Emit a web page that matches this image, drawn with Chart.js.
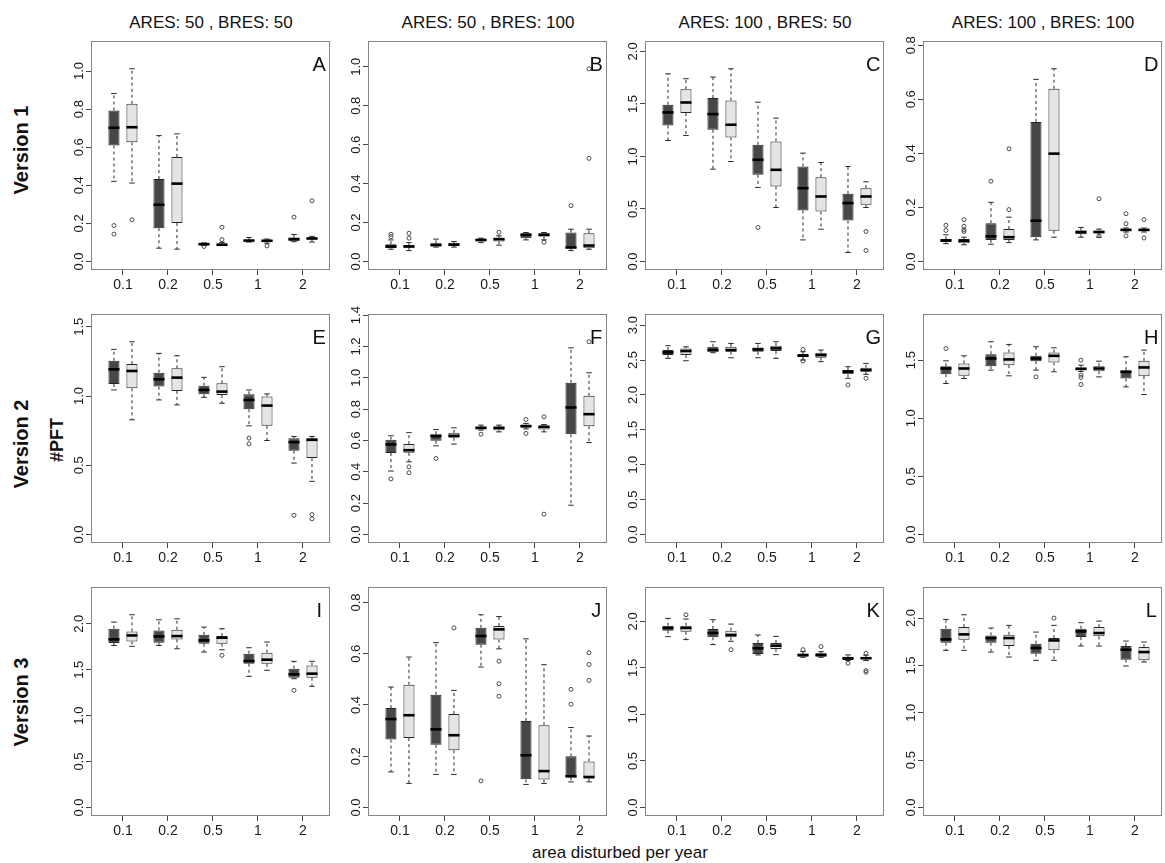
<!DOCTYPE html>
<html lang="en">
<head>
  <meta charset="UTF-8" />
  <title>#PFT vs area disturbed per year</title>
  <script src="https://cdn.jsdelivr.net/npm/chart.js"></script>
  <style>
    body { margin: 0; background: #fff; font-family: 'Liberation Sans', Arial, sans-serif; color: #111; }
    #page { position: relative; width: 1165px; height: 863px; overflow: hidden; }
    #page canvas { position: absolute; }
    .lbl { position: absolute; white-space: nowrap; line-height: 1; }
    .ctr { transform: translate(-50%, -50%); }
    .rot { transform: translate(-50%, -50%) rotate(-90deg); font-weight: bold; }
  </style>
</head>
<body>
<div id="page"></div>

<script>
  // ---- labels ----
  const categories = ['0.1', '0.2', '0.5', '1', '2'];
  const columnTitles = ['ARES: 50 , BRES: 50', 'ARES: 50 , BRES: 100', 'ARES: 100 , BRES: 50', 'ARES: 100 , BRES: 100'];
  const rowTitles = ['Version 1', 'Version 2', 'Version 3'];
  const yTitle = '#PFT';
  const xTitle = 'area disturbed per year';
  const panelLetters = ['A', 'B', 'C', 'D', 'E', 'F', 'G', 'H', 'I', 'J', 'K', 'L'];
  const yStep = [0.2, 0.2, 0.5, 0.2, 0.5, 0.2, 0.5, 0.5, 0.5, 0.2, 0.5, 0.5];

  // each box: [lower whisker, q1, median, q3, upper whisker]
  const A_dark = [[0.421, 0.609, 0.702, 0.793, 0.882], [0.070, 0.175, 0.298, 0.433, 0.661], [0.084, 0.086, 0.091, 0.095, 0.098], [0.102, 0.105, 0.110, 0.114, 0.126], [0.104, 0.107, 0.118, 0.125, 0.142]];
  const A_light = [[0.412, 0.626, 0.705, 0.828, 1.012], [0.065, 0.202, 0.409, 0.549, 0.670], [0.084, 0.084, 0.088, 0.095, 0.100], [0.096, 0.102, 0.109, 0.114, 0.118], [0.102, 0.116, 0.121, 0.125, 0.132]];
  const A_darkOut = [[0.189, 0.144], [], [0.079], [], [0.233]];
  const A_lightOut = [[0.219], [], [0.180, 0.115], [0.082], [0.319]];

  const B_dark = [[0.063, 0.068, 0.077, 0.089, 0.111], [0.074, 0.077, 0.085, 0.094, 0.115], [0.097, 0.103, 0.111, 0.116, 0.120], [0.111, 0.120, 0.137, 0.145, 0.149], [0.056, 0.068, 0.072, 0.149, 0.166]];
  const B_light = [[0.056, 0.072, 0.077, 0.085, 0.097], [0.074, 0.080, 0.087, 0.094, 0.103], [0.084, 0.103, 0.115, 0.121, 0.132], [0.111, 0.128, 0.137, 0.145, 0.149], [0.063, 0.068, 0.082, 0.145, 0.166]];
  const B_darkOut = [[0.140, 0.128], [], [], [], [0.287]];
  const B_lightOut = [[0.145, 0.120], [], [0.150], [0.099], [0.990, 0.530]];

  const C_dark = [[1.152, 1.295, 1.419, 1.492, 1.787], [0.879, 1.254, 1.403, 1.556, 1.756], [0.705, 0.825, 0.968, 1.111, 1.517], [0.206, 0.486, 0.698, 0.905, 1.032], [0.086, 0.390, 0.556, 0.644, 0.905]];
  const C_light = [[1.200, 1.413, 1.514, 1.641, 1.740], [0.952, 1.181, 1.302, 1.533, 1.835], [0.514, 0.714, 0.873, 1.143, 1.365], [0.308, 0.476, 0.619, 0.803, 0.943], [0.514, 0.540, 0.619, 0.698, 0.759]];
  const C_darkOut = [[], [], [0.324], [], []];
  const C_lightOut = [[], [], [], [], [0.286, 0.105]];

  const D_dark = [[0.066, 0.072, 0.078, 0.083, 0.099], [0.064, 0.080, 0.093, 0.142, 0.219], [0.080, 0.090, 0.151, 0.516, 0.674], [0.090, 0.101, 0.109, 0.115, 0.126], [0.109, 0.114, 0.117, 0.121, 0.124]];
  const D_light = [[0.062, 0.068, 0.077, 0.083, 0.090], [0.070, 0.080, 0.090, 0.120, 0.164], [0.090, 0.114, 0.399, 0.639, 0.713], [0.090, 0.105, 0.109, 0.115, 0.120], [0.109, 0.114, 0.117, 0.121, 0.124]];
  const D_darkOut = [[0.134, 0.115], [0.297], [], [], [0.177, 0.140, 0.095]];
  const D_lightOut = [[0.155, 0.130, 0.117, 0.111], [0.192, 0.417], [], [0.232, 0.095], [0.155, 0.087]];

  const E_dark = [[1.044, 1.087, 1.193, 1.255, 1.337], [0.972, 1.068, 1.121, 1.169, 1.308], [0.991, 1.013, 1.044, 1.075, 1.135], [0.785, 0.905, 0.972, 1.013, 1.044], [0.516, 0.605, 0.667, 0.696, 0.708]];
  const E_light = [[0.828, 1.056, 1.181, 1.231, 1.392], [0.936, 1.037, 1.133, 1.200, 1.291], [0.948, 1.008, 1.032, 1.092, 1.212], [0.679, 0.785, 0.931, 0.996, 1.015], [0.384, 0.552, 0.684, 0.696, 0.708]];
  const E_darkOut = [[], [], [], [0.696, 0.655], [0.139]];
  const E_lightOut = [[], [], [], [], [0.144, 0.113]];

  const F_dark = [[0.405, 0.520, 0.575, 0.605, 0.630], [0.566, 0.598, 0.628, 0.640, 0.670], [0.666, 0.670, 0.681, 0.687, 0.698], [0.674, 0.683, 0.691, 0.702, 0.709], [0.187, 0.640, 0.811, 0.968, 1.191]];
  const F_light = [[0.464, 0.521, 0.538, 0.577, 0.650], [0.577, 0.617, 0.630, 0.649, 0.681], [0.655, 0.666, 0.681, 0.687, 0.698], [0.655, 0.670, 0.687, 0.696, 0.702], [0.587, 0.691, 0.768, 0.885, 1.032]];
  const F_darkOut = [[0.355], [0.485], [0.640], [0.734, 0.645], []];
  const F_lightOut = [[0.432, 0.394], [], [], [0.751, 0.130], [1.230]];

  const G_dark = [[2.524, 2.571, 2.610, 2.643, 2.705], [2.605, 2.619, 2.643, 2.690, 2.762], [2.533, 2.619, 2.652, 2.681, 2.738], [2.500, 2.548, 2.562, 2.586, 2.619], [2.238, 2.295, 2.333, 2.357, 2.405]];
  const G_light = [[2.490, 2.571, 2.629, 2.667, 2.690], [2.533, 2.619, 2.643, 2.690, 2.738], [2.524, 2.629, 2.667, 2.705, 2.762], [2.476, 2.533, 2.571, 2.605, 2.643], [2.295, 2.333, 2.357, 2.390, 2.452]];
  const G_darkOut = [[], [], [], [2.652, 2.486], [2.143]];
  const G_lightOut = [[], [], [], [], [2.238]];

  const H_dark = [[1.299, 1.379, 1.428, 1.448, 1.494], [1.414, 1.448, 1.514, 1.551, 1.658], [1.414, 1.491, 1.514, 1.537, 1.615], [1.402, 1.414, 1.425, 1.437, 1.457], [1.270, 1.342, 1.399, 1.414, 1.529]];
  const H_light = [[1.342, 1.365, 1.428, 1.471, 1.537], [1.365, 1.457, 1.506, 1.566, 1.635], [1.400, 1.480, 1.537, 1.566, 1.606], [1.356, 1.405, 1.428, 1.448, 1.491], [1.204, 1.362, 1.437, 1.494, 1.586]];
  const H_darkOut = [[1.600], [], [1.356], [1.500, 1.371, 1.351, 1.290], []];
  const H_lightOut = [[], [], [], [], []];

  const I_dark = [[1.764, 1.790, 1.830, 1.946, 2.018], [1.764, 1.793, 1.862, 1.928, 2.043], [1.692, 1.783, 1.819, 1.880, 1.964], [1.428, 1.565, 1.594, 1.674, 1.739], [1.402, 1.413, 1.449, 1.511, 1.591]];
  const I_light = [[1.754, 1.808, 1.873, 1.917, 2.098], [1.728, 1.830, 1.866, 1.935, 2.054], [1.717, 1.783, 1.848, 1.866, 1.946], [1.493, 1.565, 1.609, 1.685, 1.801], [1.319, 1.413, 1.457, 1.547, 1.591]];
  const I_darkOut = [[], [], [], [], [1.275]];
  const I_lightOut = [[], [], [1.656], [], []];

  const J_dark = [[0.139, 0.265, 0.345, 0.388, 0.470], [0.129, 0.245, 0.305, 0.440, 0.643], [0.548, 0.635, 0.669, 0.701, 0.752], [0.090, 0.110, 0.204, 0.338, 0.658], [0.100, 0.117, 0.122, 0.200, 0.312]];
  const J_light = [[0.094, 0.271, 0.360, 0.479, 0.587], [0.129, 0.223, 0.282, 0.365, 0.457], [0.619, 0.655, 0.695, 0.708, 0.745], [0.094, 0.109, 0.142, 0.321, 0.557], [0.100, 0.113, 0.119, 0.180, 0.279]];
  const J_darkOut = [[], [], [0.104], [], [0.461, 0.403]];
  const J_lightOut = [[], [0.701], [0.571, 0.483, 0.434], [], [0.604, 0.558, 0.496]];

  const K_dark = [[1.836, 1.900, 1.929, 1.954, 2.032], [1.750, 1.829, 1.875, 1.918, 2.018], [1.639, 1.650, 1.711, 1.768, 1.854], [1.614, 1.621, 1.639, 1.650, 1.675], [1.579, 1.586, 1.604, 1.614, 1.639]];
  const K_light = [[1.804, 1.889, 1.929, 1.954, 2.025], [1.786, 1.829, 1.854, 1.900, 1.971], [1.643, 1.704, 1.739, 1.768, 1.839], [1.614, 1.621, 1.639, 1.657, 1.675], [1.579, 1.596, 1.604, 1.614, 1.636]];
  const K_darkOut = [[], [], [], [1.696], [1.550]];
  const K_lightOut = [[2.071], [1.696], [], [1.729], [1.657, 1.471, 1.454]];

  const L_dark = [[1.659, 1.740, 1.775, 1.888, 1.986], [1.641, 1.740, 1.789, 1.817, 1.895], [1.554, 1.624, 1.684, 1.729, 1.852], [1.705, 1.800, 1.859, 1.888, 1.951], [1.494, 1.561, 1.666, 1.705, 1.757]];
  const L_light = [[1.659, 1.772, 1.828, 1.905, 2.035], [1.589, 1.705, 1.789, 1.824, 1.923], [1.554, 1.659, 1.764, 1.789, 1.923], [1.705, 1.807, 1.842, 1.905, 1.968], [1.536, 1.554, 1.641, 1.694, 1.747]];
  const L_darkOut = [[], [], [], [], []];
  const L_lightOut = [[], [], [2.000], [], []];

  const panels = [
    [A_dark, A_light, A_darkOut, A_lightOut], [B_dark, B_light, B_darkOut, B_lightOut],
    [C_dark, C_light, C_darkOut, C_lightOut], [D_dark, D_light, D_darkOut, D_lightOut],
    [E_dark, E_light, E_darkOut, E_lightOut], [F_dark, F_light, F_darkOut, F_lightOut],
    [G_dark, G_light, G_darkOut, G_lightOut], [H_dark, H_light, H_darkOut, H_lightOut],
    [I_dark, I_light, I_darkOut, I_lightOut], [J_dark, J_light, J_darkOut, J_lightOut],
    [K_dark, K_light, K_darkOut, K_lightOut], [L_dark, L_light, L_darkOut, L_lightOut]
  ];

  // ---- layout ----
  const FRAME_LEFT = [91, 368, 645, 923];
  const FRAME_TOP = [41, 314, 587];
  const FW = 240, FH = 229;
  const PAD_L = 40, PAD_T = 14, PAD_R = 4, PAD_B = 32;
  const OFF = 0.2;            // box offset from the group tick
  const FONT = "'Liberation Sans', Arial, sans-serif";
  const DARK = '#474747', LIGHT = '#e4e4e4';

  const page = document.getElementById('page');

  function addLabel(text, x, y, cls, size) {
    const d = document.createElement('div');
    d.className = 'lbl ' + cls;
    d.style.left = x + 'px';
    d.style.top = y + 'px';
    d.style.fontSize = size + 'px';
    d.textContent = text;
    page.appendChild(d);
  }

  columnTitles.forEach((t, c) => addLabel(t, FRAME_LEFT[c] + FW / 2, 22, 'ctr', 17));
  const rowLabelY = [150, 444, 702];
  rowTitles.forEach((t, r) => addLabel(t, 21, rowLabelY[r], 'rot', 20));
  addLabel(yTitle, 57, 440, 'rot', 18);
  addLabel(xTitle, 620, 852, 'ctr', 17);

  // whiskers, caps and medians, drawn with the chart's scales
  const boxPlugin = {
    id: 'boxWhiskers',
    afterDatasetsDraw(chart) {
      const { ctx, scales: { x, y } } = chart;
      ctx.save();
      [0, 1].forEach(di => {
        const meta = chart.getDatasetMeta(di);
        const stats = chart.data.datasets[di].stats;
        stats.forEach((b, i) => {
          const bar = meta.data[i];
          const cx = bar.x, half = bar.width / 2;
          const [lo, q1, med, q3, hi] = b.map(v => y.getPixelForValue(v));
          ctx.strokeStyle = '#2a2a2a';
          ctx.lineWidth = 1;
          ctx.setLineDash([3, 3]);
          ctx.beginPath();
          ctx.moveTo(cx, q3); ctx.lineTo(cx, hi);
          ctx.moveTo(cx, q1); ctx.lineTo(cx, lo);
          ctx.stroke();
          ctx.setLineDash([]);
          ctx.beginPath();
          ctx.moveTo(cx - half / 2, hi); ctx.lineTo(cx + half / 2, hi);
          ctx.moveTo(cx - half / 2, lo); ctx.lineTo(cx + half / 2, lo);
          ctx.stroke();
          ctx.strokeStyle = '#000';
          ctx.lineWidth = 2.6;
          ctx.beginPath();
          ctx.moveTo(cx - half, med); ctx.lineTo(cx + half, med);
          ctx.stroke();
        });
      });
      ctx.restore();
    },
    afterDraw(chart, args, opts) {
      const { ctx, chartArea: a, scales: { x } } = chart;
      ctx.save();
      ctx.strokeStyle = '#858585';
      ctx.lineWidth = 1;
      ctx.strokeRect(a.left + 0.5, a.top + 0.5, a.right - a.left - 1, a.bottom - a.top - 1);
      ctx.fillStyle = '#111';
      ctx.font = '20px ' + FONT;
      ctx.textAlign = 'center';
      ctx.textBaseline = 'middle';
      ctx.fillText(opts.letter, x.getPixelForValue(5.36), a.top + 24);
      ctx.restore();
    }
  };

  function makePanel(i) {
    const col = i % 4, row = Math.floor(i / 4);
    const [dark, light, darkOut, lightOut] = panels[i];
    const canvas = document.createElement('canvas');
    canvas.width = FW + PAD_L + PAD_R;
    canvas.height = FH + PAD_T + PAD_B;
    canvas.style.left = (FRAME_LEFT[col] - PAD_L) + 'px';
    canvas.style.top = (FRAME_TOP[row] - PAD_T) + 'px';
    page.appendChild(canvas);

    // R style: ylim = c(0, 1.1 * max), extended by 4 %
    const all = [dark, light, darkOut, lightOut].flat(2);
    const top = 1.1 * Math.max(...all);
    const yTicks = [];
    for (let v = 0; v <= top * 1.04 + 1e-9; v += yStep[i]) yTicks.push(+v.toFixed(3));

    const outPts = [];
    darkOut.forEach((list, k) => list.forEach(v => outPts.push({ x: k + 1 - OFF, y: v })));
    lightOut.forEach((list, k) => list.forEach(v => outPts.push({ x: k + 1 + OFF, y: v })));

    const barSet = (stats, off, color) => ({
      type: 'bar',
      stats,
      data: stats.map((b, k) => ({ x: k + 1 + off, y: [b[1], b[3]] })),
      backgroundColor: color,
      borderColor: '#262626',
      borderWidth: 1,
      borderSkipped: false,
      grouped: false,
      barPercentage: 0.77,
      order: 2
    });

    const tickFont = size => ({ family: FONT, size });
    const grid = { display: true, drawOnChartArea: false, drawTicks: true, tickLength: 5, color: '#444', offset: false };

    new Chart(canvas, {
      type: 'bar',
      data: {
        datasets: [
          barSet(dark, -OFF, DARK),
          barSet(light, OFF, LIGHT),
          {
            type: 'scatter',
            data: outPts,
            pointRadius: 2,
            pointStyle: 'circle',
            borderColor: '#4a4a4a',
            backgroundColor: 'rgba(0,0,0,0)',
            borderWidth: 1,
            order: 0
          }
        ]
      },
      options: {
        responsive: false,
        animation: false,
        events: [],
        layout: { padding: { top: PAD_T, right: PAD_R, left: 0, bottom: 0 } },
        plugins: { legend: { display: false }, tooltip: { enabled: false }, boxWhiskers: { letter: panelLetters[i] } },
        scales: {
          x: {
            type: 'linear', min: 0.29, max: 5.6, offset: false,
            afterBuildTicks: s => { s.ticks = categories.map((c, k) => ({ value: k + 1 })); },
            afterFit: s => { s.height = PAD_B; },
            ticks: { autoSkip: false, minRotation: 0, maxRotation: 0, padding: 2, color: '#1a1a1a', font: tickFont(14),
              callback: v => categories[Math.round(v) - 1] },
            grid, border: { display: false }
          },
          y: {
            type: 'linear', min: -0.04 * top, max: 1.04 * top, bounds: 'data',
            afterBuildTicks: s => { s.ticks = yTicks.map(v => ({ value: v })); },
            afterFit: s => { s.width = PAD_L; },
            ticks: { autoSkip: false, minRotation: 90, maxRotation: 90, crossAlign: 'center', padding: -2,
              color: '#1a1a1a', font: tickFont(13), callback: v => v.toFixed(1) },
            grid, border: { display: false }
          }
        }
      },
      plugins: [boxPlugin]
    });
  }

  panels.forEach((p, i) => makePanel(i));
</script>
</body>
</html>
